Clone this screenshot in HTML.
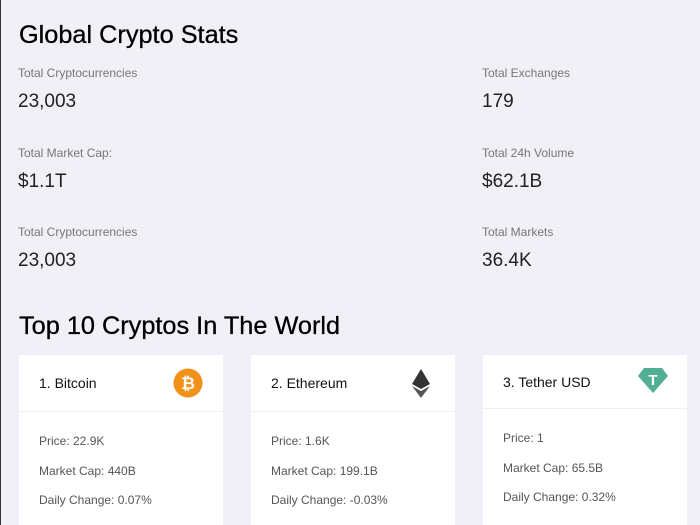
<!DOCTYPE html>
<html style="overflow:hidden;height:525px"><head><style>
body{margin:0;width:700px;height:525px;overflow:hidden;background:#f0f0f6;font-family:"Liberation Sans",sans-serif;color:#000;position:relative;border-left:1px solid #333;box-sizing:border-box}
.t{position:absolute;white-space:nowrap}
h1{position:absolute;margin:0;font-weight:normal;font-size:25.3px;left:18px;-webkit-text-stroke:0.3px #000}
.l{font-size:12px;color:#777}
.v{font-size:19px;color:#222}
.card{position:absolute;top:355px;width:204px;height:170px;background:#fff;overflow:hidden}
.hd{height:56px;border-bottom:1px solid #f0f0f0;position:relative}
.nm{position:absolute;left:20px;top:20px;font-size:14px;color:#111}
.bd{padding-left:20px;font-size:12px;color:#555}
.bd div{height:29.5px}
</style></head><body>
<h1 style="top:21px">Global Crypto Stats</h1>
<div class="t l" style="left:17px;top:66px">Total Cryptocurrencies</div>
<div class="t v" style="left:17px;top:91px">23,003</div>
<div class="t l" style="left:481px;top:66px">Total Exchanges</div>
<div class="t v" style="left:481px;top:91px">179</div>
<div class="t l" style="left:17px;top:146px">Total Market Cap:</div>
<div class="t v" style="left:17px;top:171px">$1.1T</div>
<div class="t l" style="left:481px;top:146px">Total 24h Volume</div>
<div class="t v" style="left:481px;top:171px">$62.1B</div>
<div class="t l" style="left:17px;top:225px">Total Cryptocurrencies</div>
<div class="t v" style="left:17px;top:250px">23,003</div>
<div class="t l" style="left:481px;top:225px">Total Markets</div>
<div class="t v" style="left:481px;top:250px">36.4K</div>
<h1 style="top:312px">Top 10 Cryptos In The World</h1>

<div class="card" style="left:18px"><div class="hd"><div class="nm">1. Bitcoin</div>
<svg style="position:absolute;left:154px;top:13px" width="30" height="30"><circle cx="15" cy="15" r="14.5" fill="#f0921a"/><text x="15" y="21" font-size="17" font-weight="bold" fill="#fff" text-anchor="middle" font-family="Liberation Sans">₿</text></svg></div>
<div class="bd" style="padding-top:22px"><div>Price: 22.9K</div><div>Market Cap: 440B</div><div>Daily Change: 0.07%</div></div></div>

<div class="card" style="left:250px"><div class="hd"><div class="nm">2. Ethereum</div>
<svg style="position:absolute;left:160px;top:14px" width="20" height="30"><polygon points="10,0 19,15 10,20 1,15" fill="#343434"/><polygon points="10,22 19,17 10,29 1,17" fill="#555"/></svg></div>
<div class="bd" style="padding-top:22px"><div>Price: 1.6K</div><div>Market Cap: 199.1B</div><div>Daily Change: -0.03%</div></div></div>

<div class="card" style="left:482px"><div class="hd" style="height:53px"><div class="nm" style="top:19px">3. Tether USD</div>
<svg style="position:absolute;left:155px;top:13px" width="30" height="26"><polygon points="6,0 24,0 30,8 15,25 0,8" fill="#50af95"/><text x="15" y="17" font-size="15" font-weight="bold" fill="#fff" text-anchor="middle" font-family="Liberation Sans">T</text></svg></div>
<div class="bd" style="padding-top:22px"><div>Price: 1</div><div>Market Cap: 65.5B</div><div>Daily Change: 0.32%</div></div></div>
</body></html>
